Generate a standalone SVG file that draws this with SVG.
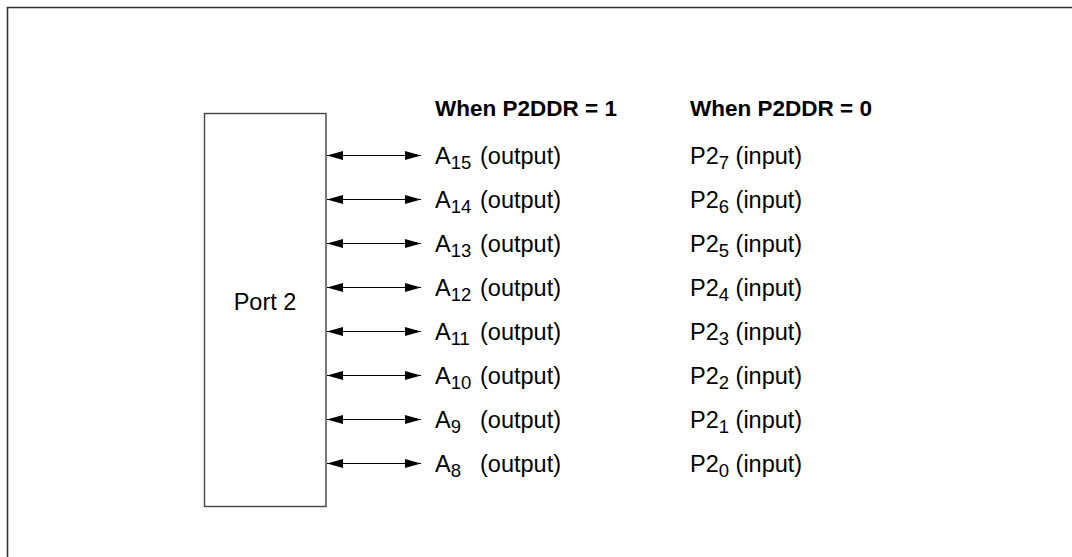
<svg xmlns="http://www.w3.org/2000/svg" width="1072" height="557" viewBox="0 0 1072 557">
<defs>
<style>
text{font-family:"Liberation Sans",Arial,sans-serif;font-size:23.5px;fill:#000}
.h{font-weight:bold;font-size:22.5px}
.sub{font-size:18.5px}
.conn line{stroke:#000;stroke-width:1.2}
</style>
<marker id="ah" viewBox="0 0 16 9" refX="16" refY="4.5" markerWidth="16" markerHeight="9" markerUnits="userSpaceOnUse" orient="auto-start-reverse">
<path d="M0,0 L16,4.5 L0,9 Z" fill="#000"/>
</marker>
</defs>
<rect width="1072" height="557" fill="#fff"/>
<g id="frame">
<path d="M7.5,557 V7.5 H1072" fill="none" stroke="#333" stroke-width="1.6"/>
</g>
<g id="port2">
<rect x="204.5" y="113.5" width="121.5" height="393" fill="#fff" stroke="#444" stroke-width="1.4"/>
<text x="265" y="310" text-anchor="middle">Port 2</text>
</g>
<g id="headers">
<text class="h" x="435" y="116">When P2DDR = 1</text>
<text class="h" x="690" y="116">When P2DDR = 0</text>
</g>
<g class="conn" id="connectors">
<line x1="327" y1="155.5" x2="421" y2="155.5" marker-start="url(#ah)" marker-end="url(#ah)"/>
<line x1="327" y1="199.5" x2="421" y2="199.5" marker-start="url(#ah)" marker-end="url(#ah)"/>
<line x1="327" y1="243.5" x2="421" y2="243.5" marker-start="url(#ah)" marker-end="url(#ah)"/>
<line x1="327" y1="287.5" x2="421" y2="287.5" marker-start="url(#ah)" marker-end="url(#ah)"/>
<line x1="327" y1="331.5" x2="421" y2="331.5" marker-start="url(#ah)" marker-end="url(#ah)"/>
<line x1="327" y1="375.5" x2="421" y2="375.5" marker-start="url(#ah)" marker-end="url(#ah)"/>
<line x1="327" y1="419.5" x2="421" y2="419.5" marker-start="url(#ah)" marker-end="url(#ah)"/>
<line x1="327" y1="463.5" x2="421" y2="463.5" marker-start="url(#ah)" marker-end="url(#ah)"/>
</g>
<g id="labels-ddr1">
<text x="435" y="164">A<tspan class="sub" dy="5">15</tspan><tspan x="480" dy="-5">(output)</tspan></text>
<text x="435" y="208">A<tspan class="sub" dy="5">14</tspan><tspan x="480" dy="-5">(output)</tspan></text>
<text x="435" y="252">A<tspan class="sub" dy="5">13</tspan><tspan x="480" dy="-5">(output)</tspan></text>
<text x="435" y="296">A<tspan class="sub" dy="5">12</tspan><tspan x="480" dy="-5">(output)</tspan></text>
<text x="435" y="340">A<tspan class="sub" dy="5">11</tspan><tspan x="480" dy="-5">(output)</tspan></text>
<text x="435" y="384">A<tspan class="sub" dy="5">10</tspan><tspan x="480" dy="-5">(output)</tspan></text>
<text x="435" y="428">A<tspan class="sub" dy="5">9</tspan><tspan x="480" dy="-5">(output)</tspan></text>
<text x="435" y="472">A<tspan class="sub" dy="5">8</tspan><tspan x="480" dy="-5">(output)</tspan></text>
</g>
<g id="labels-ddr0">
<text x="690" y="164">P2<tspan class="sub" dy="5">7</tspan><tspan dy="-5"> (input)</tspan></text>
<text x="690" y="208">P2<tspan class="sub" dy="5">6</tspan><tspan dy="-5"> (input)</tspan></text>
<text x="690" y="252">P2<tspan class="sub" dy="5">5</tspan><tspan dy="-5"> (input)</tspan></text>
<text x="690" y="296">P2<tspan class="sub" dy="5">4</tspan><tspan dy="-5"> (input)</tspan></text>
<text x="690" y="340">P2<tspan class="sub" dy="5">3</tspan><tspan dy="-5"> (input)</tspan></text>
<text x="690" y="384">P2<tspan class="sub" dy="5">2</tspan><tspan dy="-5"> (input)</tspan></text>
<text x="690" y="428">P2<tspan class="sub" dy="5">1</tspan><tspan dy="-5"> (input)</tspan></text>
<text x="690" y="472">P2<tspan class="sub" dy="5">0</tspan><tspan dy="-5"> (input)</tspan></text>
</g>
</svg>
